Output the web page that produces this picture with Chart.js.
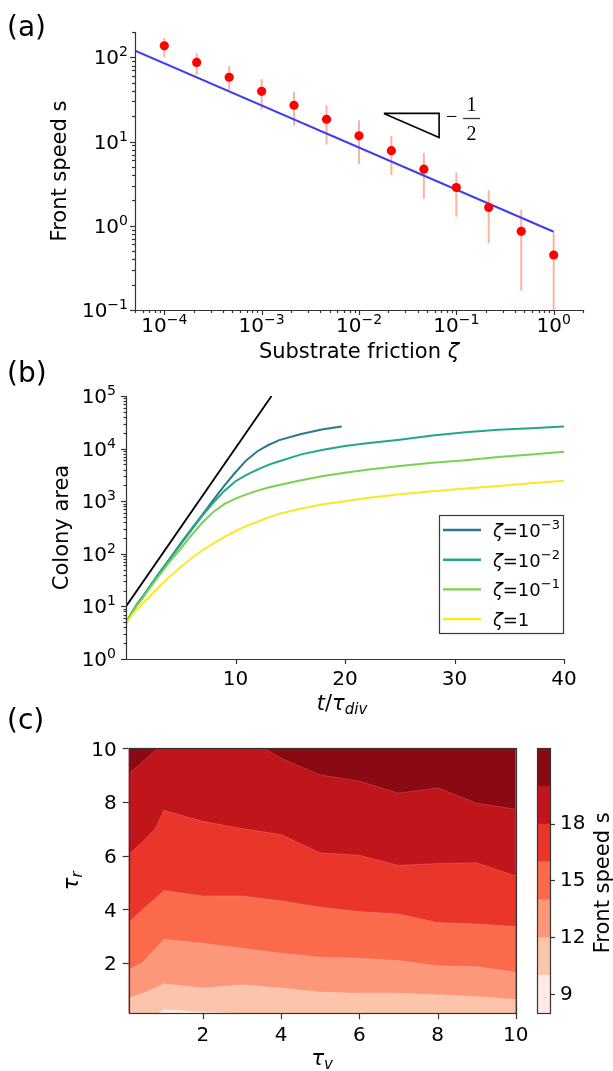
<!DOCTYPE html>
<html>
<head>
<meta charset="utf-8">
<script src="https://cdn.jsdelivr.net/npm/chart.js@4.4.1/dist/chart.umd.min.js"></script>
<style>
  html, body { margin: 0; padding: 0; background: #fff; }
  #fig { position: relative; width: 613px; height: 1071px; overflow: hidden; }
  canvas { position: absolute; left: 0; }
</style>
</head>
<body>
<div id="fig">
  <canvas id="cA" width="613" height="368" style="top:0"></canvas>
  <canvas id="cB" width="613" height="358" style="top:360px"></canvas>
  <canvas id="cC" width="613" height="371" style="top:700px"></canvas>
  <canvas id="cD" width="93" height="371" style="top:700px;left:520px"></canvas>
</div>
<script>
"use strict";

// ─── (a) front speed vs substrate friction ────────────────────
const zeta = [1e-4, 2.15e-4, 4.64e-4, 1e-3, 2.15e-3, 4.64e-3, 1e-2, 2.15e-2, 4.64e-2, 0.1, 0.215, 0.464, 1];
const speed = [137, 87, 58, 39.5, 27, 18.4, 11.7, 7.8, 4.7, 2.85, 1.65, 0.86, 0.45];
const speedHi = [170, 112, 79, 55, 39, 27, 17.9, 11.6, 7.3, 4.3, 2.64, 1.55, 0.83];
const speedLo = [100, 62, 41, 24, 15.5, 9.2, 5.4, 4.0, 2.1, 1.28, 0.62, 0.17, 0.07];
const fitZeta = [5e-5, 1];
const fitSpeed = [120, 0.85];
const slopeZeta = [0.018, 0.0665, 0.0665, 0.018];   // the -1/2 triangle
const slopeSpeed = [21.6, 21.6, 11.2, 21.6];
const aExpX = [-4, -3, -2, -1, 0];
const aExpY = [-1, 0, 1, 2];

// ─── (b) colony area vs time ──────────────────────────────────
const tShort = [0, 0.5, 1, 1.5, 2, 3, 4, 5, 6, 7, 8, 9, 10, 11, 12, 13, 14, 16, 18, 19.7];
const tLong = [0, 0.5, 1, 1.5, 2, 3, 4, 5, 6, 7, 8, 9, 10, 11, 12, 13, 14, 16, 18, 20, 22, 25, 28, 31, 34, 37, 40];
const areaZ3 = [4.8, 7.4, 11, 15, 21, 42, 81, 158, 302, 562, 1070, 2000, 3550, 6030, 8910, 11700, 14500, 19000, 23400, 26300];
const areaZ2 = [4.8, 7.4, 11, 15, 21, 42, 79, 151, 288, 537, 955, 1585, 2400, 3160, 3980, 4900, 5750, 7760, 9550, 11200, 12600, 14800, 17800, 20400, 22900, 24500, 26300];
const areaZ1 = [4.8, 7.2, 10.5, 14.1, 20, 38, 71, 126, 229, 398, 631, 891, 1120, 1350, 1590, 1820, 2040, 2510, 3020, 3470, 3980, 4680, 5370, 6030, 6920, 7760, 8710];
const areaZ0 = [4.8, 6.6, 8.9, 11.2, 14.1, 23.4, 37.2, 56.2, 83.2, 117, 158, 209, 269, 339, 407, 490, 575, 724, 871, 1000, 1150, 1350, 1550, 1740, 1950, 2190, 2450];
const refT = [0, 13.29];
const refArea = [10, 100000];
const legendExp = [-3, -2, -1, null];   // null -> "ζ=1"
const bExpY = [0, 1, 2, 3, 4, 5];
const bTicksX = [10, 20, 30, 40];

// ─── (c) front speed over (τv, τr), contour boundaries ────────
const tauV = [0.1, 0.45, 0.78, 1, 2, 3, 4, 5, 6, 7, 8, 9, 10];
const lvl10 = [0.0, 0.02, 0.05, 0.27, 0.18, 0.13, 0.08, 0.05, 0.05, 0.05, 0.05, 0.05, 0.05];
const lvl12 = [0.70, 0.88, 1.07, 1.23, 1.07, 1.19, 1.07, 0.92, 0.88, 0.88, 0.82, 0.76, 0.64];
const lvl14 = [1.75, 2.02, 2.53, 2.89, 2.74, 2.55, 2.37, 2.22, 2.18, 2.10, 1.90, 1.87, 1.66];
const lvl16 = [3.51, 4.0, 4.41, 4.70, 4.50, 4.50, 4.32, 4.08, 3.92, 3.83, 3.51, 3.46, 3.36];
const lvl18 = [6.04, 6.51, 7.01, 7.69, 7.28, 7.01, 6.79, 6.11, 6.02, 5.64, 5.71, 5.74, 5.25];
const lvl20 = [9.05, 9.5, 9.92, 10.2, 10.4, 10.5, 9.63, 9.01, 8.78, 8.33, 8.53, 7.96, 7.73];
const levels = [8, 10, 12, 14, 16, 18, 20, 22];
const bandColors = ["#feeae0", "#fcc5ab", "#fc9879", "#fb6a4a", "#ea362a", "#c0161b", "#8b0912"];
const cTicks = [2, 4, 6, 8, 10];
const cbTicks = [9, 12, 15, 18];

// ─── Drawing helpers ──────────────────────────────────────────
const FAM = '"DejaVu Sans", sans-serif';
const AXC = "#333";
Chart.defaults.font.family = FAM;

const fnt = (sz, st) => (st ? st + " " : "") + sz + "px " + FAM;
const pts = (xs, ys) => xs.map((x, i) => ({ x, y: ys[i] }));

// parts: [text, size, style, dy, family]
function drawRich(ctx, parts, x, y, align) {
  let w = 0;
  for (const p of parts) { ctx.font = p[4] || fnt(p[1], p[2]); w += ctx.measureText(p[0]).width; }
  let cx = align === "center" ? x - w / 2 : align === "right" ? x - w : x;
  ctx.textAlign = "left";
  ctx.textBaseline = "alphabetic";
  for (const p of parts) {
    ctx.font = p[4] || fnt(p[1], p[2]);
    ctx.fillText(p[0], cx, y + (p[3] || 0));
    cx += ctx.measureText(p[0]).width;
  }
}
function drawRichRot(ctx, parts, bx, cy) {
  ctx.save();
  ctx.translate(bx, cy);
  ctx.rotate(-Math.PI / 2);
  drawRich(ctx, parts, 0, 0, "center");
  ctx.restore();
}
function powParts(exp, sz) {
  return [["10", sz], [String(exp).replace("-", "\u2212"), Math.round(sz * 0.7), "", -Math.round(sz * 0.42)]];
}
function hLine(ctx, x1, x2, y) {
  const yy = Math.round(y) + 0.5;
  ctx.beginPath(); ctx.moveTo(x1, yy); ctx.lineTo(x2, yy); ctx.stroke();
}
function vLine(ctx, x, y1, y2) {
  const xx = Math.round(x) + 0.5;
  ctx.beginPath(); ctx.moveTo(xx, y1); ctx.lineTo(xx, y2); ctx.stroke();
}
// all 1..9 x 10^n positions inside [min, max]
function logTicks(min, max) {
  const out = [];
  for (let e = Math.floor(Math.log10(min)); e <= Math.ceil(Math.log10(max)); e++) {
    for (let m = 1; m < 10; m++) {
      const v = m * Math.pow(10, e);
      if (v >= min * 0.999 && v <= max * 1.001) out.push({ v, major: m === 1 });
    }
  }
  return out;
}
// hidden Chart.js axis that only reserves room, so the plot area lands where we want
function hiddenAxis(extra, size, horizontal) {
  return Object.assign({
    ticks: { display: false },
    grid: { display: false },
    border: { display: false },
    afterFit: (s) => { if (horizontal) s.height = size; else s.width = size; },
  }, extra);
}
const common = {
  responsive: false,
  animation: false,
  devicePixelRatio: 1,
  plugins: { legend: { display: false }, tooltip: { enabled: false } },
};

// ─── Panel (a) ────────────────────────────────────────────────
const panelA = {
  id: "panelA",
  beforeDatasetsDraw(chart) {
    const { ctx, chartArea: a, scales: { x, y } } = chart;
    ctx.save();
    ctx.beginPath(); ctx.rect(a.left, a.top, a.right - a.left, a.bottom - a.top); ctx.clip();
    ctx.strokeStyle = "#fcb49b";
    ctx.lineWidth = 2;
    zeta.forEach((z, i) => {
      const px = x.getPixelForValue(z);
      ctx.beginPath();
      ctx.moveTo(px, y.getPixelForValue(speedLo[i]));
      ctx.lineTo(px, y.getPixelForValue(speedHi[i]));
      ctx.stroke();
    });
    ctx.restore();
  },
  afterDraw(chart) {
    const { ctx, chartArea: a, scales: { x, y } } = chart;
    ctx.save();
    ctx.strokeStyle = AXC; ctx.lineWidth = 1.2; ctx.fillStyle = "#000";
    vLine(ctx, a.left, a.top, a.bottom + 0.6);
    hLine(ctx, a.left - 0.6, a.right, a.bottom);
    for (const t of logTicks(x.min, x.max)) vLine(ctx, x.getPixelForValue(t.v), a.bottom, a.bottom + (t.major ? 5 : 3));
    for (const t of logTicks(y.min, y.max)) hLine(ctx, a.left - (t.major ? 5 : 3), a.left, y.getPixelForValue(t.v));
    aExpX.forEach((e) => drawRich(ctx, powParts(e, 20), x.getPixelForValue(Math.pow(10, e)), a.bottom + 22, "center"));
    aExpY.forEach((e) => drawRich(ctx, powParts(e, 20), a.left - 7, y.getPixelForValue(Math.pow(10, e)) + 7, "right"));

    drawRich(ctx, [["(a)", 28]], 7, 36, "left");
    drawRich(ctx, [["Substrate friction ", 21], ["\u03b6", 21, "italic"]], (a.left + a.right) / 2, 358, "center");
    drawRichRot(ctx, [["Front speed s", 21]], a.left - 69, (a.top + a.bottom) / 2);

    // "−1/2" next to the slope triangle
    const tx = x.getPixelForValue(slopeZeta[1]);
    const ty = y.getPixelForValue(slopeSpeed[1]);
    const serif = '20px "Liberation Serif", serif';
    drawRich(ctx, [["\u2212", 20, "", 0, serif]], tx + 7, ty + 10, "left");
    ctx.lineWidth = 1.3;
    hLine(ctx, tx + 24, tx + 41, ty + 4.5);
    drawRich(ctx, [["1", 20, "", 0, serif]], tx + 32.5, ty - 2.5, "center");
    drawRich(ctx, [["2", 20, "", 0, serif]], tx + 32.5, ty + 27, "center");
    ctx.restore();
  },
};

new Chart(document.getElementById("cA"), {
  type: "line",
  data: {
    datasets: [
      { data: pts(zeta, speed), showLine: false, pointRadius: 4.6, pointBorderWidth: 0,
        pointBackgroundColor: "#ff0000", borderColor: "#ff0000" },
      { data: pts(fitZeta, fitSpeed), borderColor: "#3c3cf5", borderWidth: 2, pointRadius: 0 },
      { data: pts(slopeZeta, slopeSpeed), borderColor: "#000", borderWidth: 1.6, pointRadius: 0 },
    ],
  },
  options: Object.assign({}, common, {
    layout: { padding: { left: 0, right: 30, top: 32, bottom: 0 } },
    scales: {
      x: hiddenAxis({ type: "logarithmic", min: 5e-5, max: 2 }, 58, true),
      y: hiddenAxis({ type: "logarithmic", min: 0.1, max: 200 }, 135, false),
    },
  }),
  plugins: [panelA],
});

// ─── Panel (b) ────────────────────────────────────────────────
const bColors = ["#2a788e", "#22a884", "#7ad151", "#fde725"];

const panelB = {
  id: "panelB",
  afterDraw(chart) {
    const { ctx, chartArea: a, scales: { x, y } } = chart;
    ctx.save();
    ctx.strokeStyle = AXC; ctx.lineWidth = 1.2; ctx.fillStyle = "#000";
    vLine(ctx, a.left, a.top, a.bottom + 0.6);
    hLine(ctx, a.left - 0.6, a.right, a.bottom);
    for (const t of logTicks(y.min, y.max)) hLine(ctx, a.left - (t.major ? 5 : 2.5), a.left, y.getPixelForValue(t.v));
    bExpY.forEach((e) => drawRich(ctx, powParts(e, 20), a.left - 10, y.getPixelForValue(Math.pow(10, e)) + 7, "right"));
    bTicksX.forEach((v) => {
      const px = x.getPixelForValue(v);
      vLine(ctx, px, a.bottom, a.bottom + 5);
      drawRich(ctx, [[String(v), 20]], px, a.bottom + 26, "center");
    });

    drawRich(ctx, [["(b)", 28]], 7, 22, "left");
    drawRichRot(ctx, [["Colony area", 21]], a.left - 58, (a.top + a.bottom) / 2);
    drawRich(ctx, [["t", 21, "italic"], ["/", 21], ["\u03c4", 21, "italic"], ["div", 15, "italic", 4]],
      (a.left + a.right) / 2 - 3, 350, "center");

    // legend
    const bw = 124, bh = 118;
    const bx = a.right - 1 - bw, by = a.bottom - 26 - bh;
    ctx.fillStyle = "#fff";
    ctx.fillRect(bx, by, bw, bh);
    ctx.strokeStyle = "#3a3a3a"; ctx.lineWidth = 1.2;
    ctx.strokeRect(Math.round(bx) + 0.5, Math.round(by) + 0.5, bw, bh);
    legendExp.forEach((e, i) => {
      const ly = by + 15 + i * 29.7;
      ctx.strokeStyle = bColors[i]; ctx.lineWidth = 2.4;
      ctx.beginPath(); ctx.moveTo(bx + 4, ly); ctx.lineTo(bx + 42, ly); ctx.stroke();
      ctx.fillStyle = "#000";
      const parts = [["\u03b6", 18, "italic"], ["=", 18]];
      if (e === null) parts.push(["1", 18]);
      else parts.push(...powParts(e, 18));
      drawRich(ctx, parts, bx + 54, ly + 7, "left");
    });
    ctx.restore();
  },
};

new Chart(document.getElementById("cB"), {
  type: "line",
  data: {
    datasets: [
      { data: pts(refT, refArea), borderColor: "#000", borderWidth: 1.8, pointRadius: 0 },
      { data: pts(tLong, areaZ0), borderColor: bColors[3], borderWidth: 2, pointRadius: 0 },
      { data: pts(tLong, areaZ1), borderColor: bColors[2], borderWidth: 2, pointRadius: 0 },
      { data: pts(tLong, areaZ2), borderColor: bColors[1], borderWidth: 2, pointRadius: 0 },
      { data: pts(tShort, areaZ3), borderColor: bColors[0], borderWidth: 2, pointRadius: 0 },
    ],
  },
  options: Object.assign({}, common, {
    layout: { padding: { left: 0, right: 49, top: 36, bottom: 0 } },
    scales: {
      x: hiddenAxis({ type: "linear", min: 0, max: 40 }, 59, true),
      y: hiddenAxis({ type: "logarithmic", min: 1, max: 1e5 }, 126, false),
    },
  }),
  plugins: [panelB],
});

// ─── Panel (c) ────────────────────────────────────────────────
const panelC = {
  id: "panelC",
  beforeDatasetsDraw(chart) {
    const { ctx, chartArea: a } = chart;
    ctx.save();
    ctx.fillStyle = bandColors[bandColors.length - 1];
    ctx.fillRect(a.left, a.top, a.right - a.left, a.bottom - a.top);
    ctx.restore();
  },
  afterDraw(chart) {
    const { ctx, chartArea: a, scales: { x, y } } = chart;
    ctx.save();
    ctx.strokeStyle = AXC; ctx.lineWidth = 1.2; ctx.fillStyle = "#000";
    ctx.strokeRect(Math.round(a.left) + 0.5, Math.round(a.top) + 0.5,
      Math.round(a.right) - Math.round(a.left), Math.round(a.bottom) - Math.round(a.top));
    cTicks.forEach((v) => {
      const px = x.getPixelForValue(v);
      vLine(ctx, px, a.bottom, a.bottom + 6);
      drawRich(ctx, [[String(v), 20]], px, a.bottom + 28, "center");
      const py = y.getPixelForValue(v);
      hLine(ctx, a.left - 6, a.left, py);
      drawRich(ctx, [[String(v), 20]], a.left - 12, py + 7.3, "right");
    });
    drawRich(ctx, [["(c)", 28]], 7, 29, "left");
    drawRichRot(ctx, [["\u03c4", 21, "italic"], ["r", 15, "italic", 4]], a.left - 51, (a.top + a.bottom) / 2);
    drawRich(ctx, [["\u03c4", 21, "italic"], ["v", 15, "italic", 4]], (a.left + a.right) / 2, 365, "center");
    ctx.restore();
  },
};

const contourLines = [lvl10, lvl12, lvl14, lvl16, lvl18, lvl20];
new Chart(document.getElementById("cC"), {
  type: "line",
  data: {
    // dataset k fills below contour line k with the band under it; index 0 ends up on top
    datasets: contourLines.map((ys, k) => ({
      data: pts(tauV, ys),
      fill: "start",
      backgroundColor: bandColors[k],
      borderColor: "rgba(255,255,255,0.25)",
      borderWidth: 0.6,
      pointRadius: 0,
    })),
  },
  options: Object.assign({}, common, {
    layout: { padding: { left: 0, right: 97.3, top: 48.3, bottom: 0 } },
    scales: {
      x: hiddenAxis({ type: "linear", min: 0.1, max: 10 }, 57.7, true),
      y: hiddenAxis({ type: "linear", min: 0.13, max: 10 }, 128.7, false),
    },
  }),
  plugins: [panelC],
});

// ─── Colorbar ─────────────────────────────────────────────────
const colorbar = {
  id: "colorbar",
  afterDraw(chart) {
    const { ctx, chartArea: a } = chart;
    ctx.save();
    ctx.strokeStyle = AXC; ctx.lineWidth = 1.2;
    ctx.strokeRect(Math.round(a.left) + 0.5, Math.round(a.top) + 0.5,
      Math.round(a.right) - Math.round(a.left), Math.round(a.bottom) - Math.round(a.top));
    ctx.fillStyle = "#000";
    drawRichRot(ctx, [["Front speed s", 21]], a.right + 59, (a.top + a.bottom) / 2 + 2);
    ctx.restore();
  },
};

new Chart(document.getElementById("cD"), {
  type: "bar",
  data: {
    labels: [""],
    datasets: bandColors.map((c, i) => ({
      data: [[levels[i], levels[i + 1]]],
      backgroundColor: c,
      borderWidth: 0,
      grouped: false,
      barPercentage: 1,
      categoryPercentage: 1,
    })),
  },
  options: Object.assign({}, common, {
    layout: { padding: { left: 17, right: 0, top: 48.3, bottom: 57.7 } },
    scales: {
      x: { display: false },
      y: {
        position: "right",
        min: levels[0],
        max: levels[levels.length - 1],
        afterBuildTicks: (s) => { s.ticks = cbTicks.map((v) => ({ value: v })); },
        ticks: { color: "#000", font: { size: 20, family: FAM }, padding: 5 },
        grid: { drawOnChartArea: false, tickLength: 5, color: AXC, tickWidth: 1.2 },
        border: { display: true, color: AXC, width: 1.2 },
        afterFit: (s) => { s.width = 63; },
      },
    },
  }),
  plugins: [colorbar],
});
</script>
</body>
</html>
